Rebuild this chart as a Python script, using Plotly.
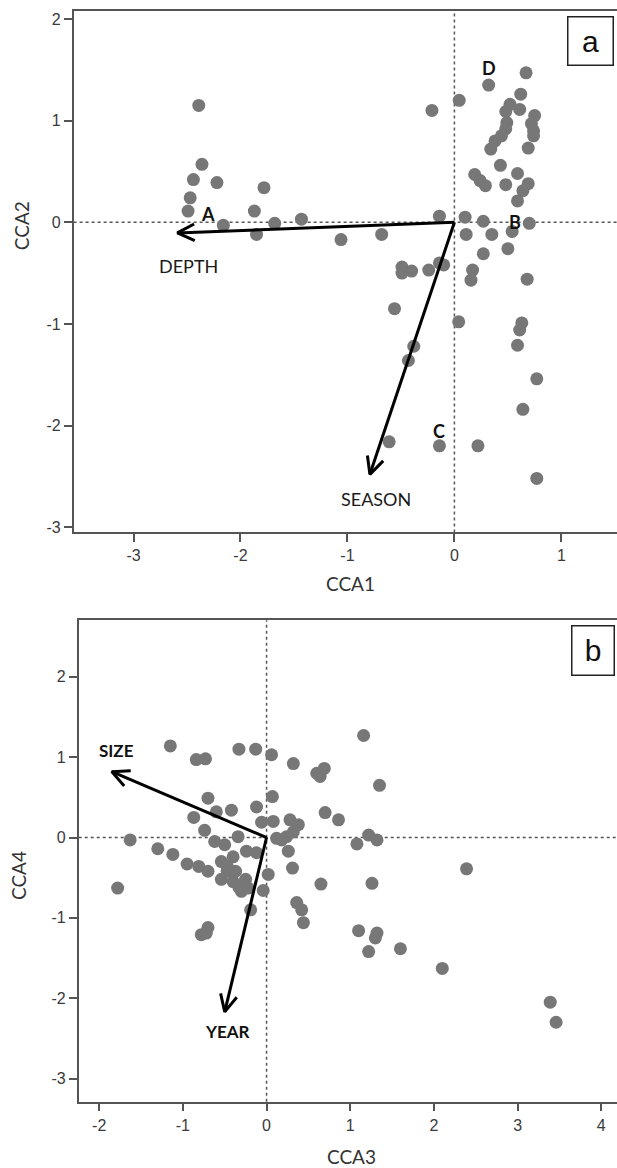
import math
import plotly.graph_objects as go

# ---------------- data ----------------
# Panel a: site scores on CCA1 / CCA2
a_x = [-2.39, -2.36, -2.44, -2.22, -2.47, -2.49, -2.16, -1.78, -1.87, -1.85, -1.68, -1.43, -1.06, -0.68,
       -0.21, 0.045, -0.14, -0.49, -0.40, -0.49, -0.24, -0.14, -0.10, -0.56, -0.38, -0.43, -0.61, -0.14, 0.22, 0.04,
       0.67, 0.32, 0.62, 0.52, 0.61, 0.48, 0.49, 0.48, 0.44, 0.38, 0.34,
       0.75, 0.72, 0.74, 0.74, 0.69,
       0.43, 0.59, 0.19, 0.24, 0.29, 0.48, 0.69, 0.64, 0.59,
       0.10, 0.27, 0.70, 0.11, 0.35, 0.54, 0.50, 0.27, 0.17, 0.155, 0.68,
       0.63, 0.61, 0.59, 0.77, 0.64, 0.77]
a_y = [1.15, 0.57, 0.42, 0.39, 0.24, 0.11, -0.03, 0.34, 0.11, -0.12, -0.01, 0.03, -0.17, -0.12,
       1.10, 1.20, 0.06, -0.44, -0.48, -0.50, -0.47, -0.40, -0.42, -0.85, -1.22, -1.36, -2.16, -2.20, -2.20, -0.98,
       1.47, 1.35, 1.26, 1.16, 1.11, 1.09, 0.98, 0.92, 0.85, 0.80, 0.72,
       1.05, 0.97, 0.90, 0.85, 0.73,
       0.56, 0.48, 0.47, 0.41, 0.36, 0.37, 0.38, 0.31, 0.21,
       0.05, 0.01, -0.01, -0.12, -0.12, -0.09, -0.26, -0.31, -0.47, -0.57, -0.56,
       -0.99, -1.06, -1.21, -1.54, -1.84, -2.52]

# Panel a: environmental vectors
a_vec_names = ["DEPTH", "SEASON"]
a_vec_x = [-2.59, -0.79]
a_vec_y = [-0.105, -2.48]
a_vec_lab_x = [-2.49, -0.73]
a_vec_lab_y = [-0.43, -2.72]

# Panel a: group letters
a_grp_names = ["A", "B", "C", "D"]
a_grp_x = [-2.30, 0.57, -0.14, 0.32]
a_grp_y = [0.08, 0.00, -2.05, 1.52]

# Panel b: site scores on CCA3 / CCA4
b_x = [-1.15, -0.84, -0.73, -0.33, -0.13, 0.06, 1.16, 0.32,
       0.60, 0.69, 0.64, 1.35,
       -0.70, 0.07, -0.42, -0.60, -0.87, -0.12, -0.06, 0.08,
       0.70, 0.86, 0.28, 0.38, 0.32,
       -0.74, -0.34, -0.62, -0.50, 0.12, 0.24, 0.18,
       -1.63, -1.30, -1.12, -0.95, -0.81, -0.70,
       -0.24, -0.12, -0.40, -0.54, -0.47, -0.47, -0.37, -0.25, -0.33,
       -0.54, -0.40, -0.30, -0.22, -0.30,
       0.02, -0.04, 0.26, 0.31, 0.65,
       1.08, 1.22, 1.32, 1.26, -1.78, -0.19,
       0.36, 0.42, 0.44,
       -0.78, -0.70, -0.72,
       1.10, 1.32, 1.30, 1.22,
       2.39, 1.60, 2.10, 3.39, 3.46]
b_y = [1.14, 0.97, 0.98, 1.10, 1.10, 1.03, 1.27, 0.92,
       0.80, 0.86, 0.76, 0.65,
       0.49, 0.51, 0.34, 0.32, 0.25, 0.38, 0.19, 0.20,
       0.31, 0.22, 0.22, 0.16, 0.07,
       0.09, 0.01, -0.05, -0.09, -0.01, 0.01, -0.03,
       -0.03, -0.14, -0.21, -0.33, -0.36, -0.42,
       -0.17, -0.19, -0.24, -0.30, -0.42, -0.36, -0.42, -0.52, -0.62,
       -0.52, -0.55, -0.59, -0.63, -0.67,
       -0.46, -0.66, -0.17, -0.38, -0.58,
       -0.08, 0.03, -0.03, -0.57, -0.63, -0.90,
       -0.81, -0.90, -1.06,
       -1.21, -1.12, -1.19,
       -1.16, -1.19, -1.25, -1.42,
       -0.39, -1.385, -1.63, -2.05, -2.30]

# Panel b: environmental vectors
b_vec_names = ["SIZE", "YEAR"]
b_vec_x = [-1.85, -0.50]
b_vec_y = [0.82, -2.17]
b_vec_lab_x = [-1.79, -0.47]
b_vec_lab_y = [1.08, -2.42]

# Ticks
a_xticks = [-3, -2, -1, 0, 1]
a_yticks = [-3, -2, -1, 0, 1, 2]
b_xticks = [-2, -1, 0, 1, 2, 3, 4]
b_yticks = [-3, -2, -1, 0, 1, 2]

# ---------------- layout geometry ----------------
W, H = 617, 1168
A_XR = [-3.56, 1.52]
A_YR = [-3.052, 2.074]
B_XR = [-2.245, 4.188]
B_YR = [-3.289, 2.703]
A_XD = [73.6 / W, 1.0]
A_YD = [(H - 533.3) / H, (H - 10.5) / H]
B_XD = [78.7 / W, 1.0]
B_YD = [(H - 1104.5) / H, (H - 621.5) / H]

PT_COLOR = "#777777"
AX_COLOR = "#555555"
TICK_FONT = dict(family="Liberation Sans, Arial, sans-serif", size=16, color="#3a3a3a")
LAB_FONT = "Lato, Open Sans, sans-serif"

fig = go.Figure()


def ppu(rng, dom, total):
    return (dom[1] - dom[0]) * total / (rng[1] - rng[0])


def arrow_trace(tx, ty, xr, yr, xd, yd, xref, yref):
    sx = ppu(xr, xd, W)
    sy = ppu(yr, yd, H)
    xs, ys = [], []
    for x1, y1 in zip(tx, ty):
        dx, dy = x1 * sx, y1 * sy
        ang = math.atan2(dy, dx)
        L, half = 19.0, math.radians(26)
        xs += [0, x1, None]
        ys += [0, y1, None]
        for s in (-1, 1):
            a = ang + math.pi + s * half
            xs.append(x1 + L * math.cos(a) / sx)
            ys.append(y1 + L * math.sin(a) / sy)
            if s == -1:
                xs.append(x1)
                ys.append(y1)
        xs.append(None)
        ys.append(None)
    return go.Scatter(x=xs, y=ys, mode="lines", xaxis=xref, yaxis=yref,
                      line=dict(color="black", width=3), hoverinfo="skip",
                      showlegend=False)


# points
fig.add_trace(go.Scatter(x=a_x, y=a_y, mode="markers", xaxis="x", yaxis="y",
                         marker=dict(size=13, color=PT_COLOR), showlegend=False))
fig.add_trace(go.Scatter(x=b_x, y=b_y, mode="markers", xaxis="x2", yaxis="y2",
                         marker=dict(size=13, color=PT_COLOR), showlegend=False))

# arrows
fig.add_trace(arrow_trace(a_vec_x, a_vec_y, A_XR, A_YR, A_XD, A_YD, "x", "y"))
fig.add_trace(arrow_trace(b_vec_x, b_vec_y, B_XR, B_YR, B_XD, B_YD, "x2", "y2"))

# dotted zero lines
shapes = []
for xr_, yr_ in (("x", "y"), ("x2", "y2")):
    shapes.append(dict(type="line", xref=xr_, yref=yr_ + " domain", x0=0, x1=0, y0=0, y1=1,
                       line=dict(color="#555555", width=1.5, dash="dot"), layer="below"))
    shapes.append(dict(type="line", xref=xr_ + " domain", yref=yr_, x0=0, x1=1, y0=0, y1=0,
                       line=dict(color="#555555", width=1.5, dash="dot"), layer="below"))

annotations = []
for n, x, y in zip(a_vec_names, a_vec_lab_x, a_vec_lab_y):
    annotations.append(dict(x=x, y=y, xref="x", yref="y", text=n, showarrow=False,
                            font=dict(family=LAB_FONT, size=18, color="#1a1a1a")))
for n, x, y in zip(a_grp_names, a_grp_x, a_grp_y):
    annotations.append(dict(x=x, y=y, xref="x", yref="y", text="<b>%s</b>" % n, showarrow=False,
                            font=dict(family=LAB_FONT, size=18, color="#111111")))
for n, x, y in zip(b_vec_names, b_vec_lab_x, b_vec_lab_y):
    annotations.append(dict(x=x, y=y, xref="x2", yref="y2", text="<b>%s</b>" % n, showarrow=False,
                            font=dict(family=LAB_FONT, size=17, color="#111111")))

# axis titles
for txt, px, py, rot in (("CCA2", 21, 225, -90), ("CCA1", 350, 584, 0),
                         ("CCA4", 19, 878, -90), ("CCA3", 351, 1159, 0)):
    annotations.append(dict(x=px / W, y=1 - py / H, xref="paper", yref="paper", text=txt,
                            showarrow=False, textangle=rot, xanchor="center", yanchor="middle",
                            font=dict(family=LAB_FONT, size=19, color="#333333")))

# panel letters in boxes
for txt, px, py, w, h in (("a", 590, 40.5, 44, 47), ("b", 593, 652, 41, 48)):
    annotations.append(dict(x=px / W, y=1 - py / H, xref="paper", yref="paper", text=txt,
                            showarrow=False, xanchor="center", yanchor="middle",
                            width=w, height=h, borderpad=0, bordercolor="#222222",
                            borderwidth=1.5, bgcolor="white",
                            font=dict(family="Liberation Sans, Arial, sans-serif", size=30,
                                      color="#111111")))


def axis(rng, dom, ticks, anchor, mirror):
    return dict(range=rng, domain=dom, anchor=anchor, tickvals=ticks,
                ticktext=[str(t) for t in ticks], showgrid=False, zeroline=False,
                showline=True, linecolor=AX_COLOR, linewidth=1.5, mirror=mirror,
                ticks="outside", ticklen=8, tickwidth=1.5, tickcolor=AX_COLOR,
                tickfont=TICK_FONT, fixedrange=True)


fig.update_layout(
    width=W, height=H, margin=dict(l=0, r=0, t=0, b=0),
    paper_bgcolor="white", plot_bgcolor="white", showlegend=False,
    xaxis=axis(A_XR, A_XD, a_xticks, "y", True),
    yaxis=axis(A_YR, A_YD, a_yticks, "x", False),
    xaxis2=axis(B_XR, B_XD, b_xticks, "y2", True),
    yaxis2=axis(B_YR, B_YD, b_yticks, "x2", False),
    shapes=shapes, annotations=annotations,
)

fig.write_html("out.html")
